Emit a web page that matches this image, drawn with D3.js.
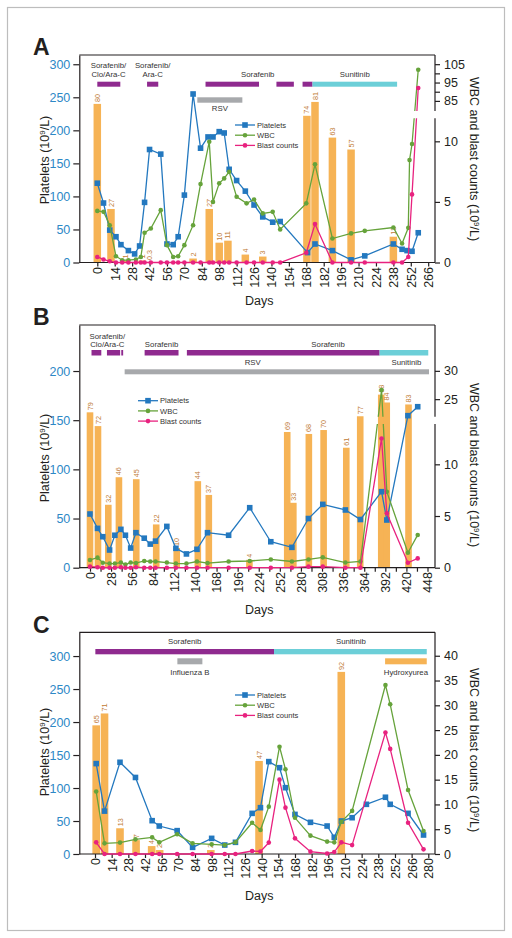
<!DOCTYPE html>
<html><head><meta charset="utf-8">
<script src="https://cdn.jsdelivr.net/npm/d3@7"></script>
<style>body{margin:0;background:#fff} svg{display:block}</style>
</head><body><svg id="chart" width="512" height="938"></svg>
<script>
// ---------------- DATA ----------------
// Panel A
const aPltDays = [0,5,10,15,19,25,30,34,38,42,51,56,61,65,70,77,83,89,93,98,102,106,112,119,126,133,141,147,169,175,189,204,215,238,245,249,253,258];
const aPlt     = [120,90,49,39,27,18,13,25,91,171,164,28,27,39,102,255,173,190,190,198,196,141,124,108,87,69,61,62,15,28,18,4,10,28,20,18,17,45];
const aWbcDays = [0,5,10,15,20,25,31,35,38,43,51,56,61,65,70,77,83,90,93,98,102,106,112,120,126,133,141,147,168,175,189,204,215,238,245,250,251,253,258];
const aWbc     = [4.26,4.18,3.08,0.52,0.19,0.19,0.25,0.46,2.45,2.81,4.32,1.43,0.46,0.52,1.43,3.08,6.47,9.97,5.0,6.53,6.94,7.49,5.42,4.88,5.2,4.05,4.18,2.73,4.88,8.1,1.98,2.4,2.61,2.89,1.57,2.86,8.45,9.78,102];
const aBlastDays = [0,5,10,15,20,25,31,35,38,43,51,56,61,65,70,77,83,90,93,98,102,106,112,120,126,133,141,147,168,175,189,204,215,238,245,250,253,258];
const aBlast     = [0.46,0.25,0.1,0,0,0,0,0,0,0,0,0,0,0,0,0,0,0,0,0,0,0,0,0,0,0,0,0,0.8,3.17,0,0,0,0,0,0.46,5.62,92];
const aBarDays = [0,11,23,36,42,77,90,98,105,119,133,168.5,175,189,204,238];
const aBarPct  = [80,27,1,1,0.3,2,27,10,11,4,3,74,81,63,57,13];
const aTherapy = [
  {kind:"sorafenib", start:0, end:18.5},
  {kind:"sorafenib", start:40, end:49},
  {kind:"sorafenib", start:87, end:130},
  {kind:"sorafenib", start:144, end:158},
  {kind:"sorafenib", start:165, end:173},
  {kind:"sunitinib", start:173, end:241}];
const aEvents = [{kind:"infection", start:80.4, end:116.6}];
const aNotes = [
  {lines:["Sorafenib/","Clo/Ara-C"], day:9, row:"above"},
  {lines:["Sorafenib/","Ara-C"], day:44.5, row:"above"},
  {lines:["Sorafenib"], day:129, row:"above"},
  {lines:["Sunitinib"], day:207, row:"above"},
  {lines:["RSV"], day:98.5, row:"below"}];
const aXTicks = [0,14,28,42,56,70,84,98,112,126,140,154,168,182,196,210,224,238,252,266];
const aXLabels = [0,14,28,42,56,70,84,98,112,126,140,154,168,182,196,210,224,238,252,266];
const aLeftTicks = [0,50,100,150,200,250,300];
const aRightTicks = [0,5,10,85,90,95,100,105];
const aRightLabels = [0,5,10,85,95,105];

// Panel B
const bPltDays = [0,10,17,26,33,41,47,54,61,72,80,87,102,114,128,142,156,184,212,240,268,290,309,339,359,387,394,422,435];
const bPlt     = [54.6,40,31.5,18,33,39,33,20,35.6,30,24,27,42,19.7,14,18.7,35.6,33,61,26.4,20.7,50,64.4,58.7,49,77.3,48.5,154.6,163.7];
const bWbcDays = bPltDays;
const bWbc     = [0.75,0.97,0.48,0.4,0.4,0.5,0.3,0.5,0.45,0.65,0.6,0.6,0.5,0.4,0.4,0.6,0.45,0.6,0.65,0.8,0.6,0.8,1.0,0.5,0.6,26.6,7.35,1.45,3.17];
const bBlastDays = bPltDays;
const bBlast     = [0.1,0.05,0,0,0,0.05,0,0,0.05,0,0,0,0,0,0,0,0,0,0,0,0,0.1,0.1,0,0,12.5,5.26,0.48,0.9];
const bBarDays = [0,10.6,24.3,38.4,61.4,87.9,115.1,143.1,157.7,211.6,261.8,269.9,290.5,310.1,340.2,358.7,386.6,393.9,422.8];
const bBarPct  = [79,72,32,46,45,22,10,44,37,4,69,33,68,70,61,77,88,84,83];
const bTherapy = [
  {kind:"sorafenib", start:2, end:15},
  {kind:"sorafenib", start:22.5, end:40},
  {kind:"sorafenib", start:41.5, end:44},
  {kind:"sorafenib", start:72.5, end:117.5},
  {kind:"sorafenib", start:128.6, end:384.4},
  {kind:"sunitinib", start:384.4, end:449}];
const bEvents = [{kind:"infection", start:46, end:450}];
const bNotes = [
  {lines:["Sorafenib/","Clo/Ara-C"], day:23, row:"above"},
  {lines:["Sorafenib"], day:95, row:"above"},
  {lines:["Sorafenib"], day:316, row:"above"},
  {lines:["Sunitinib"], day:420, row:"mid"},
  {lines:["RSV"], day:216, row:"mid"}];
const bXTicks = [0,14,28,42,56,70,84,98,112,126,140,154,168,182,196,210,224,238,252,266,280,294,308,322,336,350,364,378,392,406,420,434,448];
const bXLabels = [0,28,56,84,112,140,168,196,224,252,280,308,336,364,392,420,448];
const bLeftTicks = [0,50,100,150,200];
const bRightTicks = [0,5,10,25,30];
const bRightLabels = [0,5,10,25,30];

// Panel C
const cPltDays = [1,8,21,34,48,54,69,82,98,109,118,132,139,146,155,160,168,181,195,201,207,216,228,244,248,263,276];
const cPlt     = [137,65,139,116,50.5,42.4,35.4,10.1,23.7,13.6,17.7,61.6,70.2,140,130.8,100.5,60,48,42.4,25.3,50,55,75.3,86,75.3,61.6,28.8];
const cWbcDays = [1,8,21,34,48,54,69,82,98,109,118,132,139,146,155,160,168,181,195,201,207,216,244,248,263,276];
const cWbc     = [12.6,2.15,2.3,2.96,3.36,2.35,3.97,2.15,1.95,1.8,2.35,6.3,4.84,9.55,21.65,17.1,7.3,3.7,2.5,2.35,6.5,8.7,34.1,30.2,12.9,4.64];
const cBlastDays = cWbcDays;
const cBlast     = [2.35,0,0,0,0,0,0,0,0,0,0,0.6,0.5,2.3,15,9.35,3.16,0.47,0.1,0.4,2.35,1.8,24.5,21.2,6.3,0.94];
const cBarDays = [1,8,21,34.5,47.6,54.3,97.3,137.8,206.9];
const cBarPct  = [65,71,13,7,4,2,2,47,92];
const cTherapy = [
  {kind:"sorafenib", start:0.3, end:150.4},
  {kind:"sunitinib", start:150.4, end:278.7}];
const cEvents = [
  {kind:"infection", start:69.2, end:90.2},
  {kind:"hydroxyurea", start:243.7, end:278.7}];
const cNotes = [
  {lines:["Sorafenib"], day:75.4, row:"above"},
  {lines:["Sunitinib"], day:215, row:"above"},
  {lines:["Influenza B"], day:79.7, row:"below"},
  {lines:["Hydroxyurea"], day:261.2, row:"below"}];
const cXTicks = [0,14,28,42,56,70,84,98,112,126,140,154,168,182,196,210,224,238,252,266,280];
const cXLabels = cXTicks;
const cLeftTicks = [0,50,100,150,200,250,300];
const cRightTicks = [0,5,10,15,20,25,30,35,40];
const cRightLabels = cRightTicks;

const legendNames = ["Platelets","WBC","Blast counts"];

// ---------------- STYLE ----------------
const FONT = '"Liberation Sans", Arial, Helvetica, sans-serif';
const C = {purple:"#8f2a8f", cyan:"#6ccfd8", grey:"#a7a9ac", orange:"#f6b355", blue:"#2378bf",
           green:"#66a33b", pink:"#e8227f", barTxt:"#c07a34", tickBlue:"#2d88c6", ink:"#231f20"};
const kindColor = {sorafenib:C.purple, sunitinib:C.cyan, infection:C.grey, hydroxyurea:C.orange};

const svg = d3.select("#chart").attr("font-family", FONT);
svg.append("rect").attr("x",0).attr("y",0).attr("width",512).attr("height",938).attr("fill","#fff");
svg.append("rect").attr("x",7.5).attr("y",7.5).attr("width",497).attr("height",923)
   .attr("fill","none").attr("stroke","#bdbdbd").attr("stroke-width",1.2);
const defs = svg.append("defs");

function unitTitle(sel, prefix) {
  sel.append("tspan").text(prefix + " (10");
  sel.append("tspan").attr("dy", -4).attr("font-size", "8px").text("9");
  sel.append("tspan").attr("dy", 4).text("/L)");
}

function drawPanel(cfg) {
  const g = svg.append("g");
  const x = d3.scaleLinear().domain(cfg.xDomain).range(cfg.xRange);
  const yL = d3.scaleLinear().domain(cfg.yLDomain).range([cfg.bottom, cfg.top]);
  const yR = d3.scaleLinear().domain(cfg.yRDomain).range(cfg.yRRange);

  // panel letter
  g.append("text").attr("x", 33).attr("y", cfg.letterY).attr("font-size", 23).attr("font-weight", "bold")
    .attr("fill", C.ink).text(cfg.letter);

  // bars (blast %)
  cfg.barDays.forEach((d, i) => {
    const v = cfg.barPct[i] * cfg.barFactor;
    const y0 = yL(v);
    g.append("rect").attr("x", x(d) - cfg.barW / 2).attr("y", y0).attr("width", cfg.barW)
      .attr("height", cfg.bottom - y0).attr("fill", C.orange);
    g.append("text").attr("transform", `translate(${x(d)},${y0 - 2}) rotate(-90)`)
      .attr("dy", "0.35em").attr("font-size", 7.2).attr("fill", C.barTxt).text(String(cfg.barPct[i]));
  });

  // therapy & event tracks
  cfg.therapy.forEach(t => g.append("rect").attr("x", x(t.start)).attr("y", cfg.treatY)
    .attr("width", x(t.end) - x(t.start)).attr("height", cfg.treatH).attr("fill", kindColor[t.kind]));
  cfg.events.forEach(t => g.append("rect").attr("x", x(t.start)).attr("y", cfg.eventY)
    .attr("width", x(t.end) - x(t.start)).attr("height", cfg.eventH).attr("fill", kindColor[t.kind]));
  cfg.notes.forEach(n => {
    const base = cfg.rows[n.row];
    n.lines.forEach((ln, k) => {
      const yy = n.row === "above" ? base - (n.lines.length - 1 - k) * 8.5 : base + k * 8.5;
      g.append("text").attr("x", x(n.day)).attr("y", yy).attr("text-anchor", "middle")
        .attr("font-size", 7.8).attr("fill", "#333").text(ln);
    });
  });

  // frame top
  g.append("line").attr("x1", cfg.left).attr("x2", cfg.right).attr("y1", cfg.top).attr("y2", cfg.top)
    .attr("stroke", C.ink).attr("stroke-width", 1.2);
  // bottom axis line
  g.append("line").attr("x1", cfg.left).attr("x2", cfg.right).attr("y1", cfg.bottom).attr("y2", cfg.bottom)
    .attr("stroke", C.ink).attr("stroke-width", 1.2);

  // left axis
  const la = g.append("g").attr("transform", `translate(${cfg.left},0)`)
    .call(d3.axisLeft(yL).tickValues(cfg.leftTicks).tickSize(6).tickSizeOuter(0).tickPadding(3));
  la.attr("font-family", FONT);
  la.select(".domain").attr("stroke", C.ink).attr("stroke-width", 1.2);
  la.selectAll(".tick line").attr("stroke", C.ink).attr("stroke-width", 1.2);
  la.selectAll(".tick text").attr("fill", C.tickBlue).attr("font-size", 12.5);

  // right axis (possibly broken)
  const ra = g.append("g").attr("transform", `translate(${cfg.right},0)`)
    .call(d3.axisRight(yR).tickValues(cfg.rightTicks).tickSize(5).tickPadding(4)
      .tickFormat(d => cfg.rightLabels.includes(d) ? d : ""));
  ra.attr("font-family", FONT);
  ra.select(".domain").remove();
  ra.selectAll(".tick line").attr("stroke", C.ink).attr("stroke-width", 1.2);
  ra.selectAll(".tick text").attr("fill", C.ink).attr("font-size", 12.5);
  cfg.rSegments.forEach(s => g.append("line").attr("x1", cfg.right).attr("x2", cfg.right)
    .attr("y1", s[0]).attr("y2", s[1]).attr("stroke", C.ink).attr("stroke-width", 1.2));

  // bottom axis ticks & labels
  const xa = g.append("g").attr("transform", `translate(0,${cfg.bottom})`)
    .call(d3.axisBottom(x).tickValues(cfg.xTicks).tickSize(4).tickSizeOuter(0)
      .tickFormat(d => cfg.xLabels.includes(d) ? d : ""));
  xa.attr("font-family", FONT);
  xa.select(".domain").remove();
  xa.selectAll(".tick line").attr("stroke", C.ink).attr("stroke-width", 1.2);
  xa.selectAll(".tick text").attr("transform", "rotate(-90)").attr("text-anchor", "end")
    .attr("x", -(cfg.xLabelY - cfg.bottom)).attr("y", 0).attr("dy", "0.35em")
    .attr("fill", C.ink).attr("font-size", 12.5);

  // axis titles
  g.append("text").attr("x", (cfg.left + cfg.right) / 2 + 2).attr("y", cfg.daysY).attr("text-anchor", "middle")
    .attr("font-size", 12.5).attr("fill", C.ink).text("Days");
  unitTitle(g.append("text").attr("transform", `translate(49,${cfg.lTitleY}) rotate(-90)`)
    .attr("text-anchor", "middle").attr("font-size", 12.5).attr("fill", C.ink), "Platelets");
  unitTitle(g.append("text").attr("transform", `translate(470,${cfg.rTitleY}) rotate(90)`)
    .attr("text-anchor", "middle").attr("font-size", 12.5).attr("fill", C.ink), "WBC and blast counts");

  // clip for the axis break (right-axis series only)
  const cid = "clip" + cfg.letter;
  const cp = defs.append("clipPath").attr("id", cid);
  if (cfg.band) {
    cp.append("rect").attr("x", 0).attr("y", 0).attr("width", 512).attr("height", cfg.band[0]);
    cp.append("rect").attr("x", 0).attr("y", cfg.band[1]).attr("width", 512).attr("height", 938 - cfg.band[1]);
  } else {
    cp.append("rect").attr("x", 0).attr("y", 0).attr("width", 512).attr("height", 938);
  }

  function series(days, vals, y, color, shape, clip) {
    const pts = days.map((d, i) => ({d, v: vals[i]}));
    const sg = g.append("g");
    if (clip) sg.attr("clip-path", `url(#${cid})`);
    sg.append("path").datum(pts).attr("fill", "none").attr("stroke", color).attr("stroke-width", 1.3)
      .attr("d", d3.line().x(p => x(p.d)).y(p => y(p.v)));
    if (shape === "square") {
      sg.selectAll(null).data(pts).enter().append("rect")
        .attr("x", p => x(p.d) - 2.8).attr("y", p => y(p.v) - 2.8).attr("width", 5.6).attr("height", 5.6)
        .attr("fill", color);
    } else {
      sg.selectAll(null).data(pts).enter().append("circle")
        .attr("cx", p => x(p.d)).attr("cy", p => y(p.v)).attr("r", 2.3).attr("fill", color);
    }
  }
  series(cfg.pltDays, cfg.plt, yL, C.blue, "square", false);
  series(cfg.wbcDays, cfg.wbc, yR, C.green, "circle", true);
  series(cfg.blastDays, cfg.blast, yR, C.pink, "circle", true);

  // legend
  const lc = [C.blue, C.green, C.pink];
  legendNames.forEach((nm, i) => {
    const ly = cfg.legendY + i * 10.2;
    g.append("line").attr("x1", cfg.legendX).attr("x2", cfg.legendX + 20).attr("y1", ly).attr("y2", ly)
      .attr("stroke", lc[i]).attr("stroke-width", 1.3);
    if (i === 0) g.append("rect").attr("x", cfg.legendX + 7.2).attr("y", ly - 2.8).attr("width", 5.6).attr("height", 5.6).attr("fill", lc[i]);
    else g.append("circle").attr("cx", cfg.legendX + 10).attr("cy", ly).attr("r", 2.3).attr("fill", lc[i]);
    g.append("text").attr("x", cfg.legendX + 22).attr("y", ly + 2.7).attr("font-size", 7.6).attr("fill", "#333").text(nm);
  });
}

drawPanel({
  letter:"A", letterY:55, left:79.3, right:435, top:55, bottom:262.5,
  xDomain:[0,266], xRange:[97.3,428.2], yLDomain:[0,314],
  yRDomain:[0,11.9,79.5,110], yRRange:[262.5,118.3,111,55], band:[111,118.3],
  rSegments:[[262.5,118.3],[111,55]],
  barFactor:3, barW:7.5,
  treatY:81.7, treatH:5, eventY:97.3, eventH:5.4,
  rows:{above:76.5, below:111},
  xLabelY:267, daysY:305, lTitleY:160, rTitleY:159, legendX:235, legendY:125,
  pltDays:aPltDays, plt:aPlt, wbcDays:aWbcDays, wbc:aWbc, blastDays:aBlastDays, blast:aBlast,
  barDays:aBarDays, barPct:aBarPct, therapy:aTherapy, events:aEvents, notes:aNotes,
  xTicks:aXTicks, xLabels:aXLabels, leftTicks:aLeftTicks, rightTicks:aRightTicks, rightLabels:aRightLabels
});

drawPanel({
  letter:"B", letterY:325, left:79.3, right:435, top:325, bottom:567.7,
  xDomain:[0,448], xRange:[90,427.5], yLDomain:[0,246.8],
  yRDomain:[0,13.9,21.9,38.1], yRRange:[567.7,424,416.7,325], band:[416.7,424],
  rSegments:[[567.7,424],[416.7,325]],
  barFactor:2, barW:6.6,
  treatY:350, treatH:5.5, eventY:369.3, eventH:5,
  rows:{above:347, mid:364.5},
  xLabelY:572, daysY:614, lTitleY:458, rTitleY:465, legendX:138, legendY:400.7,
  pltDays:bPltDays, plt:bPlt, wbcDays:bWbcDays, wbc:bWbc, blastDays:bBlastDays, blast:bBlast,
  barDays:bBarDays, barPct:bBarPct, therapy:bTherapy, events:bEvents, notes:bNotes,
  xTicks:bXTicks, xLabels:bXLabels, leftTicks:bLeftTicks, rightTicks:bRightTicks, rightLabels:bRightLabels
});

drawPanel({
  letter:"C", letterY:633, left:79.3, right:435, top:632.3, bottom:854,
  xDomain:[0,280], xRange:[95,428.3], yLDomain:[0,336],
  yRDomain:[0,44.73], yRRange:[854,632.3], band:null,
  rSegments:[[854,632.3]],
  barFactor:3, barW:7.6,
  treatY:649, treatH:5.3, eventY:658.3, eventH:6,
  rows:{above:644, below:675},
  xLabelY:858, daysY:900, lTitleY:752, rTitleY:750, legendX:235, legendY:695,
  pltDays:cPltDays, plt:cPlt, wbcDays:cWbcDays, wbc:cWbc, blastDays:cBlastDays, blast:cBlast,
  barDays:cBarDays, barPct:cBarPct, therapy:cTherapy, events:cEvents, notes:cNotes,
  xTicks:cXTicks, xLabels:cXLabels, leftTicks:cLeftTicks, rightTicks:cRightTicks, rightLabels:cRightLabels
});
</script></body></html>
